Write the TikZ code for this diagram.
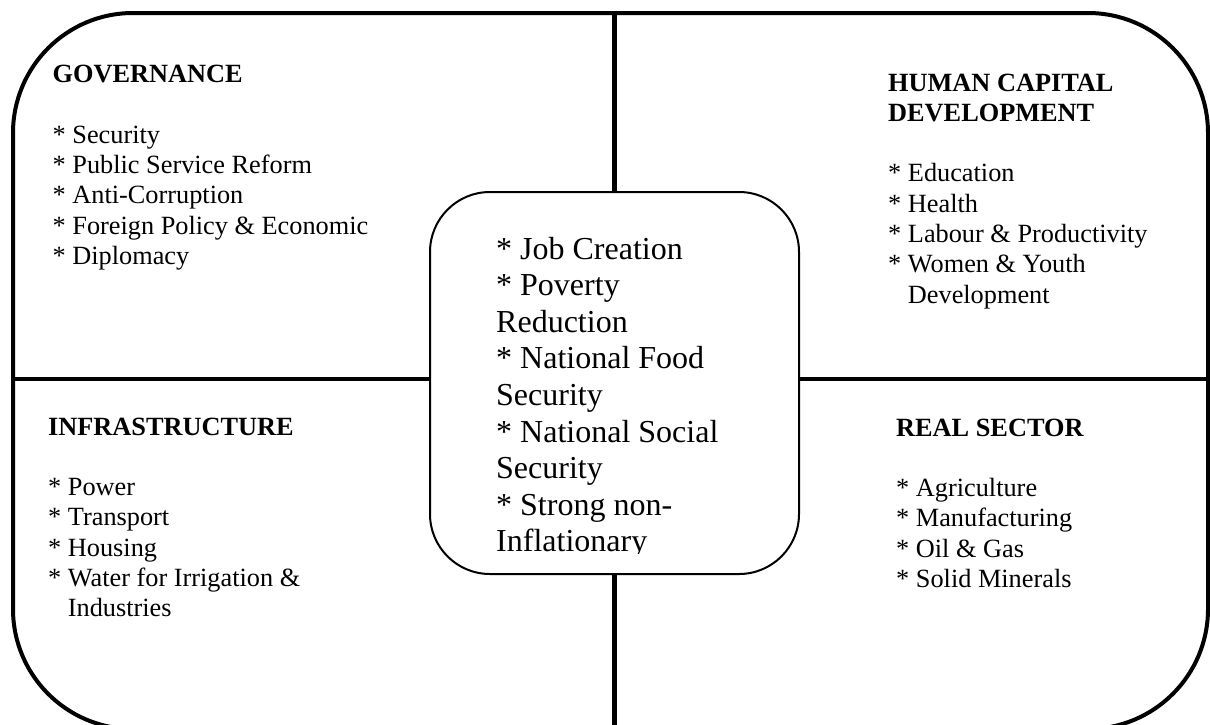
\documentclass[tikz,border=0pt]{standalone}
\usepackage{fontspec}
\setmainfont{Liberation Serif}
\newcommand{\bul}{{*}\ }
\begin{document}
\begin{tikzpicture}[x=1pt,y=-1pt,
  frame/.style={line width=4pt,rounded corners=120pt},
  divider/.style={line width=#1},
  corebox/.style={draw,line width=2pt,fill=white,rounded corners=60pt,minimum width=369pt,minimum height=382pt,inner sep=0pt},
  sidetext/.style={anchor=base west,inner sep=0pt,font=\fontsize{26.3pt}{30.3pt}\selectfont},
  coretext/.style={anchor=base west,inner sep=0pt,font=\fontsize{32pt}{36.6pt}\selectfont}]
\useasboundingbox (0,0) rectangle (1210,724);
% outer frame
\draw[frame] (13,13) rectangle (1208,729);
% dividers
\coordinate (dtop) at (614,13);
\coordinate (dbot) at (614,729);
\coordinate (dleft) at (13,379);
\coordinate (dright) at (1208,379);
\draw[divider=5pt] (dtop) -- (dbot);
\draw[divider=4pt] (dleft) -- (dright);
% centre box
\node[corebox] (core) at (614.5,383) {};
\begin{scope}
\clip (430,192) rectangle (799,553);
\node[coretext] (coretxt) at (496,259) {\begin{tabular}[t]{@{}l@{}}
\bul Job Creation\\
\bul Poverty\\
Reduction\\
\bul National Food\\
Security\\
\bul National Social\\
Security\\
\bul Strong non-\\
Inflationary\\
\end{tabular}};
\end{scope}
% quadrants
\node[sidetext] (gov) at (52.5,82.5) {\begin{tabular}[t]{@{}l@{}}
\textbf{GOVERNANCE}\\
\\
\bul Security\\
\bul Public Service Reform\\
\bul Anti-Corruption\\
\bul Foreign Policy \& Economic\\
\bul Diplomacy
\end{tabular}};
\node[sidetext] (hcd) at (888,91) {\begin{tabular}[t]{@{}l@{}}
\textbf{HUMAN CAPITAL}\\
\textbf{DEVELOPMENT}\\
\\
\bul Education\\
\bul Health\\
\bul Labour \& Productivity\\
\bul Women \& Youth\\
\phantom{*}\ Development
\end{tabular}};
\node[sidetext] (infra) at (48,435) {\begin{tabular}[t]{@{}l@{}}
\textbf{INFRASTRUCTURE}\\
\\
\bul Power\\
\bul Transport\\
\bul Housing\\
\bul Water for Irrigation \&\\
\phantom{*}\ Industries
\end{tabular}};
\node[sidetext] (real) at (896,436) {\begin{tabular}[t]{@{}l@{}}
\textbf{REAL SECTOR}\\
\\
\bul Agriculture\\
\bul Manufacturing\\
\bul Oil \& Gas\\
\bul Solid Minerals
\end{tabular}};
\end{tikzpicture}
\end{document}
